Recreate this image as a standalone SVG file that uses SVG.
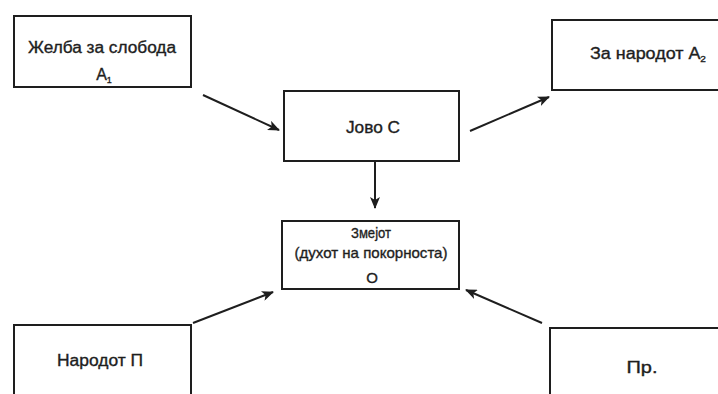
<svg xmlns="http://www.w3.org/2000/svg" width="718" height="394" viewBox="0 0 718 394">
  <style>
    .box { fill: #ffffff; stroke: #1e1e1e; stroke-width: 2; }
    .lbl { font-family: "Liberation Sans", Arial, sans-serif; font-size: 16px; fill: #1e1e1e; stroke: #1e1e1e; stroke-width: 0.35; text-anchor: middle; }
    .sm { font-size: 15px; }
    .sub { font-size: 9px; }
    .conn { stroke: #1e1e1e; stroke-width: 2; fill: none; marker-end: url(#head); }
  </style>
  <defs>
    <marker id="head" viewBox="0 0 12 10" refX="11" refY="5" markerWidth="12" markerHeight="10" markerUnits="userSpaceOnUse" orient="auto">
      <path d="M0,0 L12,5 L0,10 L3,5 Z" fill="#1e1e1e"/>
    </marker>
  </defs>
  <rect x="0" y="0" width="718" height="394" fill="#ffffff"/>

  <g id="sender">
    <rect class="box" x="14" y="16" width="177" height="71"/>
    <text class="lbl" x="102" y="53" textLength="148" lengthAdjust="spacingAndGlyphs">Желба за слобода</text>
    <text class="lbl" x="104" y="80">А<tspan class="sub" dy="3">1</tspan></text>
  </g>

  <g id="receiver">
    <rect class="box" x="552" y="20" width="170" height="70"/>
    <text class="lbl" x="648" y="59" textLength="116" lengthAdjust="spacingAndGlyphs">За народот А<tspan class="sub" dy="3">2</tspan></text>
  </g>

  <g id="subject">
    <rect class="box" x="284" y="91" width="175" height="70"/>
    <text class="lbl" x="373" y="133" textLength="54" lengthAdjust="spacingAndGlyphs">Јово С</text>
  </g>

  <g id="object">
    <rect class="box" x="282" y="221" width="177" height="68"/>
    <text class="lbl sm" x="371" y="238" textLength="40" lengthAdjust="spacingAndGlyphs">Змејот</text>
    <text class="lbl sm" x="371" y="258" textLength="153" lengthAdjust="spacingAndGlyphs">(духот на покорноста)</text>
    <text class="lbl sm" x="372" y="283">О</text>
  </g>

  <g id="helper">
    <rect class="box" x="14" y="325" width="177" height="80"/>
    <text class="lbl" x="100" y="366" textLength="86" lengthAdjust="spacingAndGlyphs">Народот П</text>
  </g>

  <g id="opponent">
    <rect class="box" x="550" y="328" width="180" height="80"/>
    <text class="lbl" x="642" y="373" textLength="31" lengthAdjust="spacingAndGlyphs">Пр.</text>
  </g>

  <g id="connectors">
    <line class="conn" x1="203" y1="95" x2="279" y2="130"/>
    <line class="conn" x1="470" y1="131" x2="549" y2="97"/>
    <line class="conn" x1="375" y1="162" x2="375" y2="208"/>
    <line class="conn" x1="193" y1="323" x2="273" y2="292"/>
    <line class="conn" x1="542" y1="323" x2="466" y2="290"/>
  </g>
</svg>
